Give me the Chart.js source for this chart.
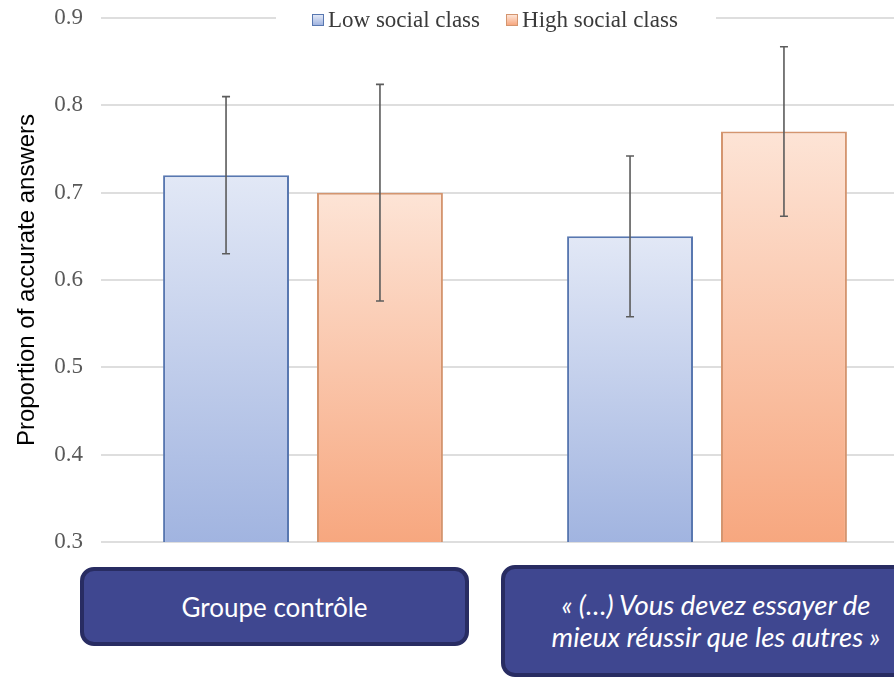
<!DOCTYPE html>
<html>
<head>
<meta charset="utf-8">
<script src="https://cdn.jsdelivr.net/npm/chart.js@4.4.1/dist/chart.umd.min.js"></script>
<style>
  html, body { margin: 0; padding: 0; background: #fff; overflow: hidden; }
  #wrap { position: absolute; left: 0; top: 0; width: 912px; height: 678px; }
  #legend {
    position: absolute; left: 276px; top: 8px; width: 440px; height: 23px;
    background: #fff; display: flex; align-items: center; padding-left: 36px; box-sizing: border-box;
    font-family: 'Liberation Serif', serif; font-size: 23px; line-height: 23px; color: #3a3a3a;
  }
  #legend .item { display: flex; align-items: center; margin-right: 26px; white-space: nowrap; }
  #legend .sw { width: 10px; height: 10px; margin-right: 4px; border: 1px solid; }
  .box {
    position: absolute; box-sizing: border-box; border: 4px solid #282c62; border-radius: 14px;
    background: #3f4790; color: #fff; display: flex; align-items: center; justify-content: center;
    text-align: center; font-family: Lato, sans-serif; font-size: 26px;
  }
  #box0 { left: 80px; top: 567px; width: 389px; height: 79px; }
  #box1 { left: 501px; top: 565px; width: 430px; height: 112px; font-style: italic; font-size: 27.5px; line-height: 32px; padding: 0 34px; }
</style>
</head>
<body>
<div id="wrap"><canvas id="myChart"></canvas></div>
<div id="legend"></div>
<div class="box" id="box0"></div>
<div class="box" id="box1"></div>
<script>
const categories = ['Groupe contrôle', '« (…) Vous devez essayer de mieux réussir que les autres »'];
const seriesNames = ['Low social class', 'High social class'];
const lowValues = [0.72, 0.65];
const highValues = [0.70, 0.77];
const lowErrors = [0.09, 0.092];
const highErrors = [0.124, 0.097];
const yTicks = [0.3, 0.4, 0.5, 0.6, 0.7, 0.8, 0.9];

const looks = [
  { top: '#e2e8f6', bottom: '#a1b4e0', border: '#5877b0' },
  { top: '#fde4d6', bottom: '#f7a77f', border: '#d4956f' }
];

function barFill(i) {
  return (c) => {
    const chart = c.chart;
    if (!chart.chartArea || c.raw == null) return looks[i].bottom;
    const top = chart.scales.y.getPixelForValue(c.raw);
    const g = chart.ctx.createLinearGradient(0, top, 0, chart.chartArea.bottom);
    g.addColorStop(0, looks[i].top);
    g.addColorStop(1, looks[i].bottom);
    return g;
  };
}

const errors = [lowErrors, highErrors];

const errorBars = {
  id: 'errorBars',
  afterDatasetsDraw(chart) {
    const ctx = chart.ctx;
    const y = chart.scales.y;
    ctx.save();
    ctx.strokeStyle = '#5c5c5c';
    ctx.lineWidth = 1.6;
    chart.data.datasets.forEach((ds, i) => {
      chart.getDatasetMeta(i).data.forEach((bar, j) => {
        const v = ds.data[j], e = errors[i][j];
        const y1 = y.getPixelForValue(v + e), y2 = y.getPixelForValue(v - e);
        ctx.beginPath();
        ctx.moveTo(bar.x, y1); ctx.lineTo(bar.x, y2);
        ctx.moveTo(bar.x - 4, y1); ctx.lineTo(bar.x + 4, y1);
        ctx.moveTo(bar.x - 4, y2); ctx.lineTo(bar.x + 4, y2);
        ctx.stroke();
      });
    });
    ctx.restore();
  }
};

const ctx = document.getElementById('myChart');

const myChart = new Chart(ctx, {
  type: 'bar',
  data: {
    labels: categories,
    datasets: [lowValues, highValues].map((vals, i) => ({
      label: seriesNames[i],
      data: vals,
      backgroundColor: barFill(i),
      borderColor: looks[i].border,
      borderWidth: 2,
      categoryPercentage: 0.762,
      barPercentage: 0.818
    }))
  },
  options: {
    responsive: true,
    maintainAspectRatio: false,
    animation: false,
    layout: { padding: { left: 0, top: 18, right: 3, bottom: 136 } },
    plugins: { legend: { display: false }, tooltip: { enabled: false } },
    scales: {
      x: { display: false },
      y: {
        min: 0.3,
        max: 0.9,
        afterBuildTicks: (s) => { s.ticks = yTicks.map(v => ({ value: v })); },
        // fixed axis width; labels may overflow the plot top a little
        afterFit: (s) => { s.width = 101; s.paddingTop = 0; s.paddingBottom = 0; },
        ticks: {
          padding: 18,
          color: '#595959',
          font: { family: 'Liberation Serif', size: 23 },
          callback: (v) => Number(v).toFixed(1)
        },
        grid: { color: '#dedede', lineWidth: 2, drawTicks: false },
        border: { display: false },
        title: {
          display: true,
          text: 'Proportion of accurate answers',
          color: '#000',
          font: { family: 'Liberation Sans', size: 24 },
          padding: { top: 13, bottom: 0 }
        }
      }
    }
  },
  plugins: [errorBars]
});

// legend and category boxes built from the same arrays
const legend = document.getElementById('legend');
seriesNames.forEach((name, i) => {
  const item = document.createElement('div');
  item.className = 'item';
  const sw = document.createElement('span');
  sw.className = 'sw';
  sw.style.borderColor = looks[i].border;
  sw.style.background = `linear-gradient(${looks[i].top}, ${looks[i].bottom})`;
  item.appendChild(sw);
  item.appendChild(document.createTextNode(name));
  legend.appendChild(item);
});
categories.forEach((c, i) => {
  document.getElementById('box' + i).textContent = c;
});
</script>
</body>
</html>
